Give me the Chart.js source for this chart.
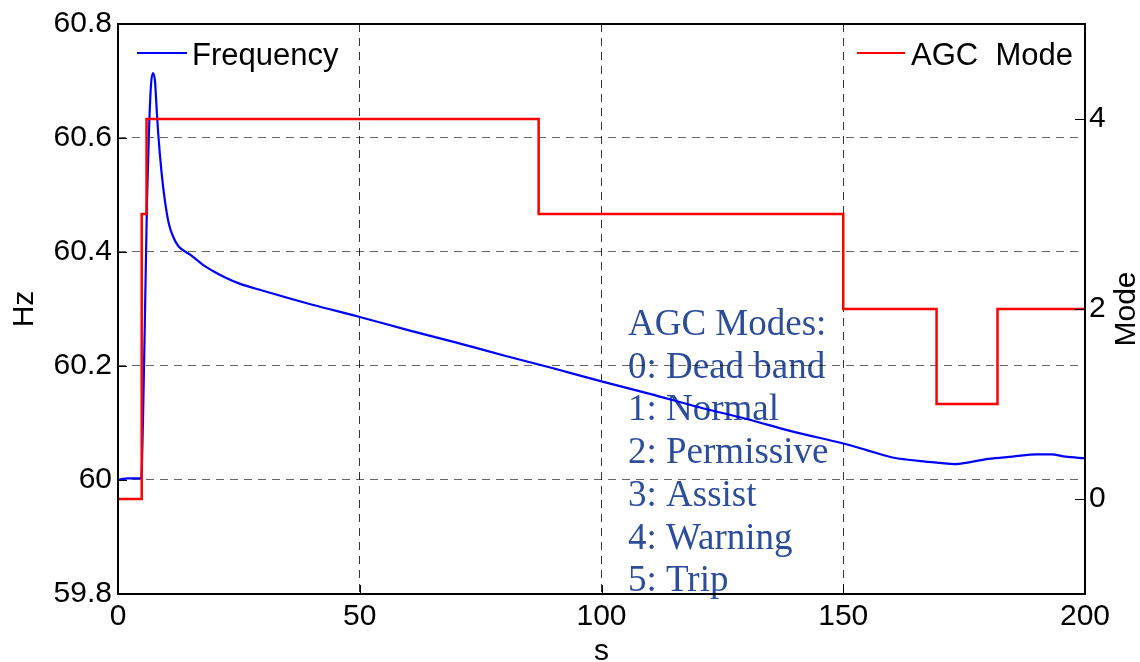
<!DOCTYPE html>
<html>
<head>
<meta charset="utf-8">
<script src="https://cdn.jsdelivr.net/npm/chart.js@4.4.0/dist/chart.umd.min.js"></script>
<style>
  html, body { margin: 0; padding: 0; background: #fff; }
  #wrap { width: 1140px; height: 662px; }
</style>
</head>
<body>
<div id="wrap"><canvas id="myChart" width="1140" height="662"></canvas></div>
<script>
// frequency trace (s, Hz)
var freqTimes = [0, 1, 2, 3, 4, 4.8, 5.2, 5.6, 6.0, 6.4, 6.8, 7.2, 7.65, 8.0, 8.3, 9.0, 9.7, 10.5, 11.5, 12.5,
    15, 17.5, 20, 22.5, 25, 30, 40, 50, 60, 70, 80, 90, 100, 110, 120, 130, 140, 150, 155, 160, 163, 166,
    170, 173, 176, 180, 185, 190, 193, 196, 200];
var freqValues = [60.0, 60.002, 60.003, 60.003, 60.003, 60.003, 60.12, 60.30, 60.49, 60.61, 60.69, 60.714, 60.70, 60.65, 60.61, 60.54, 60.49, 60.45, 60.425, 60.41,
    60.395, 60.378, 60.365, 60.354, 60.345, 60.332, 60.308, 60.286, 60.263, 60.241, 60.218, 60.196, 60.173, 60.151, 60.128, 60.107, 60.084, 60.064, 60.052, 60.040, 60.036, 60.033,
    60.030, 60.028, 60.031, 60.037, 60.041, 60.045, 60.045, 60.041, 60.038];

// AGC mode steps (value holds from each time until the next)
var modeTimes = [0, 4.9, 5.9, 87, 150, 169.3, 181.9, 200];
var modeValues = [0, 3, 4, 3, 2, 1, 2, 2];

var timeTicks = [0, 50, 100, 150, 200];
var hzTicks = [59.8, 60, 60.2, 60.4, 60.6, 60.8];
var hzLabels = ['59.8', '60', '60.2', '60.4', '60.6', '60.8'];
var modeTicks = [0, 2, 4];
var modeNotes = ['AGC Modes:', '0: Dead band', '1: Normal', '2: Permissive', '3: Assist', '4: Warning', '5: Trip'];

var sans = 'Liberation Sans, Arial, sans-serif';

var freqData = freqTimes.map(function (t, i) { return {x: t, y: freqValues[i]}; });
var modeData = modeTimes.map(function (t, i) { return {x: t, y: modeValues[i]}; });

function setTicks(list) {
    return function (scale) {
        scale.ticks = list.map(function (v) { return {value: v}; });
    };
}

// notes text, drawn under grid and lines
var notesPlugin = {
    id: 'notes',
    beforeDraw: function (chart) {
        var ctx = chart.ctx;
        ctx.save();
        ctx.font = '37px "Liberation Serif", "Times New Roman", serif';
        ctx.fillStyle = '#2C4D9B';
        ctx.textBaseline = 'alphabetic';
        modeNotes.forEach(function (line, i) {
            ctx.fillText(line, 628, 335 + i * 42.7);
        });
        ctx.restore();
    }
};

// box, inward ticks, legends, right title
var framePlugin = {
    id: 'frame',
    afterDraw: function (chart) {
        var ctx = chart.ctx;
        var a = chart.chartArea;
        var sx = chart.scales.x, sy = chart.scales.y, sy1 = chart.scales.y1;
        ctx.save();
        ctx.strokeStyle = '#000';
        ctx.lineWidth = 1;
        ctx.setLineDash([]);
        ctx.beginPath();
        timeTicks.forEach(function (v) {
            var px = Math.round(sx.getPixelForValue(v)) + 0.5;
            ctx.moveTo(px, a.bottom); ctx.lineTo(px, a.bottom - 9);
        });
        hzTicks.forEach(function (v) {
            var py = Math.round(sy.getPixelForValue(v)) + 0.5;
            ctx.moveTo(a.left, py); ctx.lineTo(a.left + 9, py);
        });
        modeTicks.forEach(function (v) {
            var py = Math.round(sy1.getPixelForValue(v)) + 0.5;
            ctx.moveTo(a.right, py); ctx.lineTo(a.right - 10, py);
        });
        ctx.stroke();

        ctx.lineWidth = 2;
        ctx.strokeRect(a.left, a.top, a.right - a.left, a.bottom - a.top);

        // legends
        var ds = chart.data.datasets;
        ctx.font = '31px ' + sans;
        ctx.fillStyle = '#000';
        ctx.textBaseline = 'alphabetic';
        ctx.lineWidth = 2.2;
        ctx.strokeStyle = ds[1].borderColor;
        ctx.beginPath(); ctx.moveTo(137, 53); ctx.lineTo(187, 53); ctx.stroke();
        ctx.fillText(ds[1].label, 192, 65);
        ctx.strokeStyle = ds[0].borderColor;
        ctx.beginPath(); ctx.moveTo(857, 53); ctx.lineTo(905, 53); ctx.stroke();
        ctx.fillText(ds[0].label, 911, 65);

        // right axis title
        ctx.font = '30px ' + sans;
        ctx.translate(1127, (a.top + a.bottom) / 2);
        ctx.rotate(-Math.PI / 2);
        ctx.textAlign = 'center';
        ctx.textBaseline = 'middle';
        ctx.fillText('Mode', 0, 0);
        ctx.restore();
    }
};

var ctx = document.getElementById('myChart').getContext('2d');
var myChart = new Chart(ctx, {
    type: 'line',
    data: {
        datasets: [
            {
                label: 'AGC  Mode',
                data: modeData,
                yAxisID: 'y1',
                borderColor: '#FF0000',
                borderWidth: 2.5,
                stepped: true,
                pointRadius: 0,
                fill: false,
                order: 0
            },
            {
                label: 'Frequency',
                data: freqData,
                yAxisID: 'y',
                borderColor: '#0000FF',
                borderWidth: 2.2,
                cubicInterpolationMode: 'monotone',
                pointRadius: 0,
                fill: false,
                order: 1
            }
        ]
    },
    options: {
        responsive: false,
        animation: false,
        devicePixelRatio: 1,
        layout: { padding: { top: 23, left: 0, right: 0, bottom: 0 } },
        plugins: { legend: { display: false }, tooltip: { enabled: false } },
        scales: {
            x: {
                type: 'linear',
                min: 0,
                max: 200,
                afterBuildTicks: setTicks(timeTicks),
                afterFit: function (scale) { scale.height = 68; },
                grid: { color: 'rgba(0,0,0,0.8)', lineWidth: 1, drawTicks: false },
                border: { display: false, dash: [8, 6] },
                ticks: { color: '#000', font: { family: sans, size: 30 }, padding: 5, maxRotation: 0 },
                title: { display: true, text: 's', color: '#000', font: { family: sans, size: 30, lineHeight: 0.7 }, padding: { top: 0, bottom: 0 } }
            },
            y: {
                position: 'left',
                min: 59.8,
                max: 60.8,
                afterBuildTicks: setTicks(hzTicks),
                afterFit: function (scale) { scale.width = 118; },
                grid: { color: 'rgba(0,0,0,0.6)', lineWidth: 1, drawTicks: false },
                border: { display: false, dash: [8, 6] },
                ticks: {
                    color: '#000', font: { family: sans, size: 30 }, padding: 6,
                    callback: function (v, i) { return hzLabels[i]; }
                },
                title: { display: true, text: 'Hz', color: '#000', font: { family: sans, size: 30 }, padding: { top: 7, bottom: 0 } }
            },
            y1: {
                position: 'right',
                min: -1,
                max: 5,
                afterBuildTicks: setTicks(modeTicks),
                afterFit: function (scale) { scale.width = 55; },
                grid: { display: false, drawTicks: false },
                border: { display: false },
                ticks: { color: '#000', font: { family: sans, size: 30 }, padding: 4 }
            }
        }
    },
    plugins: [notesPlugin, framePlugin]
});
</script>
</body>
</html>
